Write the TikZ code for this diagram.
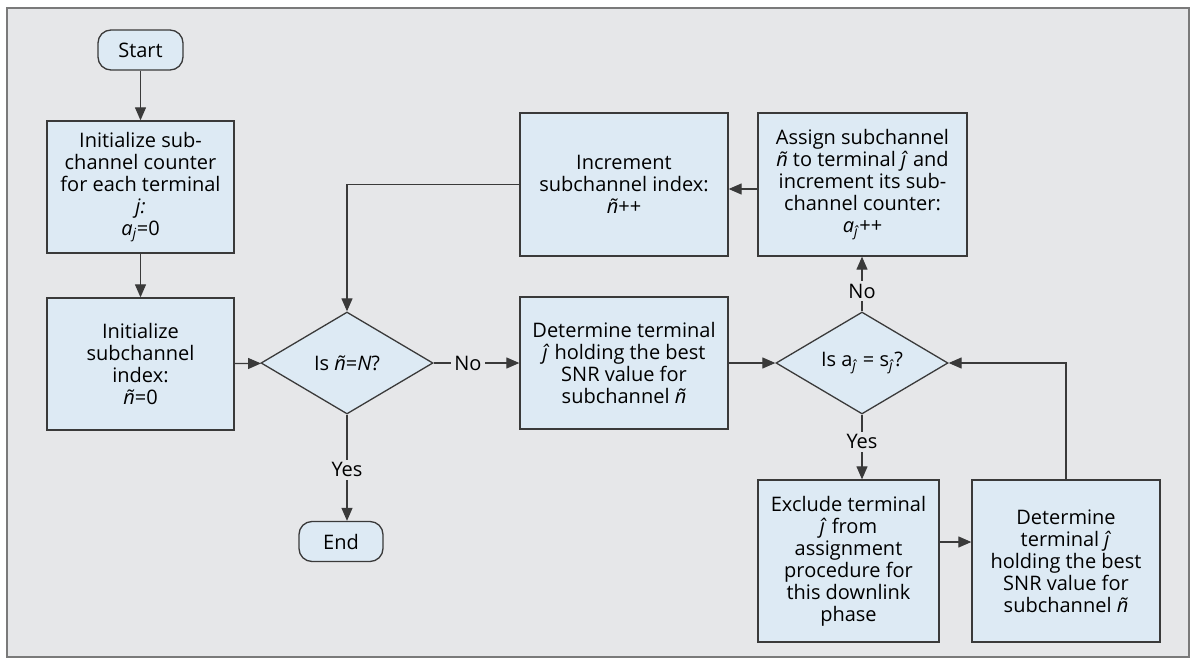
\documentclass[tikz,border=0pt]{standalone}
\usepackage{fontspec}
\setmainfont{Open Sans}
\usetikzlibrary{shapes.geometric,arrows.meta}
\definecolor{bg}{HTML}{E6E7E9}
\definecolor{boxfill}{HTML}{DDEAF4}
\definecolor{edge}{HTML}{3A3A3A}
\definecolor{framec}{HTML}{7A7A7A}
\begin{document}
\begin{tikzpicture}[x=1pt,y=-1pt,
  font=\fontsize{20}{22}\selectfont,
  box/.style={draw=edge, fill=boxfill, line width=1.3pt, align=center, inner sep=2pt, text=black},
  term/.style={box, rounded corners=13pt, minimum width=85pt, minimum height=40pt},
  dec/.style={box, diamond, aspect=1.69, minimum width=172pt, minimum height=102pt, inner sep=0pt},
  conn/.style={draw=edge, line width=1.2pt, -{Triangle[length=13pt,width=11pt]}},
  lbl/.style={fill=bg, inner sep=3pt, text=black}]
\useasboundingbox (0,0) rectangle (1195,664);
\path[fill=bg, draw=framec, line width=1.5pt] (7,8) rectangle (1189,657);

\node[term] (start) at (140.5,50) {Start};
\node[box, minimum width=187pt, minimum height=132pt] (init1) at (140.5,187)
  {Initialize sub-\\channel counter\\for each terminal\\\textit{j:}\\\textit{a}\textsubscript{\textit{j}}=0};
\node[box, minimum width=187pt, minimum height=132pt] (init2) at (140.5,364)
  {Initialize\\subchannel\\index:\\\textit{ñ}=0};
\node[dec] (d1) at (347,363) {Is \textit{ñ}=\textit{N}?};
\node[box, minimum width=208pt, minimum height=132pt] (det) at (624,363)
  {Determine terminal\\\textit{ĵ} holding the best\\SNR value for\\subchannel \textit{ñ}};
\node[dec] (d2) at (862,363) {Is a\textsubscript{\textit{ĵ}} = s\textsubscript{\textit{ĵ}}?};
\node[box, minimum width=208pt, minimum height=143pt] (inc) at (624,184.5)
  {Increment\\subchannel index:\\\textit{ñ}++};
\node[box, minimum width=209pt, minimum height=143pt] (assign) at (862.5,184.5)
  {Assign subchannel\\\textit{ñ} to terminal \textit{ĵ} and\\increment its sub-\\channel counter:\\\textit{a}\textsubscript{\textit{ĵ}}++};
\node[box, minimum width=181pt, minimum height=162pt] (excl) at (848.5,561)
  {Exclude terminal\\\textit{ĵ} from\\assignment\\procedure for\\this downlink\\phase};
\node[box, minimum width=188pt, minimum height=162pt] (det2) at (1066,561)
  {Determine\\terminal \textit{ĵ}\\holding the best\\SNR value for\\subchannel \textit{ñ}};
\node[term, minimum width=84pt] (end) at (341,541.5) {End};

\draw[conn] (start) -- (init1);
\draw[conn] (init1) -- (init2);
\draw[conn] (init2) -- (d1);
\draw[conn] (d1.east) -- node[lbl, pos=0.4] {No} (det.west);
\draw[conn] (d1.south) -- node[lbl, pos=0.52] {Yes} (d1.south |- end.north);
\draw[conn] (det.east) -- (d2.west);
\draw[conn] (d2.north) -- node[lbl, pos=0.37] {No} (d2.north |- assign.south);
\draw[conn] (d2.south) -- node[lbl, pos=0.42] {Yes} (d2.south |- excl.north);
\draw[conn] ([yshift=-4.5pt]assign.west) -- ([yshift=-4.5pt]inc.east);
\draw[conn] (inc.west) -| (d1.north);
\draw[conn] ([yshift=19pt]excl.east) -- ([yshift=19pt]excl.east -| det2.west);
\draw[conn] (det2.north) |- (d2.east);
\end{tikzpicture}
\end{document}
